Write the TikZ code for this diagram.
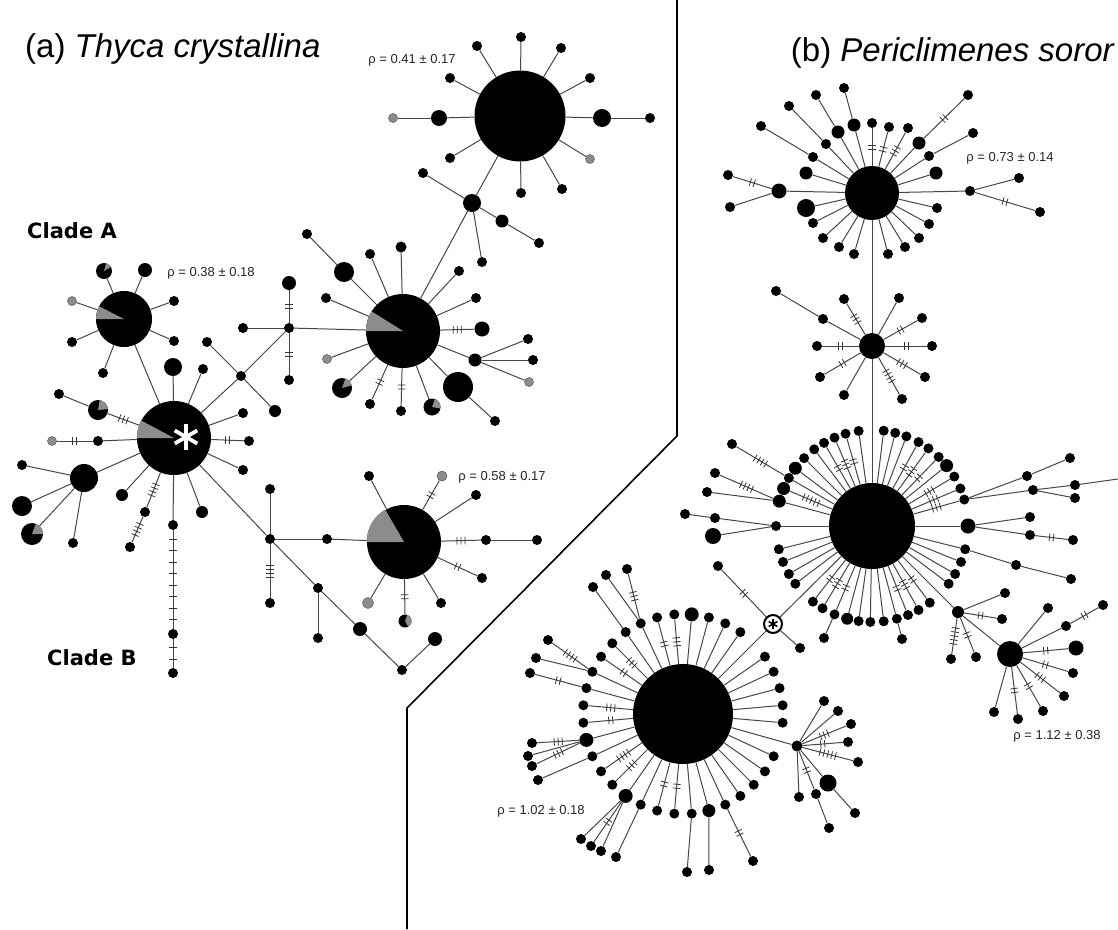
\documentclass[tikz,border=0pt]{standalone}
\usepackage{fontspec}
\setmainfont{Liberation Sans}
\newfontfamily\cladefont{DejaVu Sans}
\usetikzlibrary{calc,decorations.markings}
\tikzset{
 ed/.style={draw=black!72, line width=1pt},
 tkline/.style={draw=black!80, line width=0.8pt},
 tk/.style={postaction={decorate,decoration={markings,mark=at position 0.5 with {\ifnum#1>0\relax\foreach \k in {1,...,#1}{\draw[tkline] ({(\k-0.5-#1/2)*4},-3.8) -- ({(\k-0.5-#1/2)*4},3.8);}\fi}}}},
 tkw/.style={postaction={decorate,decoration={markings,mark=at position 0.5 with {\foreach \k in {1,...,#1}{\draw[tkline] ({(\k-0.5-#1/2)*11.5},-3.8) -- ({(\k-0.5-#1/2)*11.5},3.8);}}}}},
 d/.style={circle, fill=black, inner sep=0pt, minimum size=10pt},
 g/.style={circle, fill=black!45, draw=black!65, line width=0.5pt, inner sep=0pt, minimum size=9pt},
 hub/.style={circle, fill=black, inner sep=0pt, minimum size=#1},
 starnode/.style={circle, fill=white, draw=black, line width=2pt, inner sep=0pt, minimum size=18pt},
 lab/.style={font=\fontsize{13}{15}\selectfont, text=black!85, inner sep=0pt},
 title/.style={font=\fontsize{33}{38}\selectfont, inner sep=0pt},
 clade/.style={font=\cladefont\bfseries\fontsize{21}{24}\selectfont, inner sep=0pt},
 divider/.style={draw=black, line width=1.6pt},
}
\newcommand\lf[5]{\node[#4] (#2) at (#3) {};\draw[ed,#5] (#1) -- (#2);}
\newcommand\pw[4]{\begin{scope}[shift={(#1.center)}]\fill[black!45] (0,0) -- plot[domain=#3:#4,samples=20] ({#2*cos(\x)},{#2*sin(\x)}) -- cycle;\end{scope}}
\begin{document}
\begin{tikzpicture}[x=1pt,y=-1pt]
\fill[white] (0,0) rectangle (1118,929);
\useasboundingbox (0,0) rectangle (1118,929);
% divider
\draw[divider] (677,0) -- (677,436) -- (407,708) -- (407,929);
% titles
\node[title, anchor=base west] (ta) at (25,57) {(a) \textit{Thyca crystallina}};
\node[title, anchor=base east] (tb) at (1115,61) {(b) \textit{Periclimenes soror}};
\node[clade, anchor=base west] (cA) at (27,238) {Clade A};
\node[clade, anchor=base west] (cB) at (47,665) {Clade B};
\node[lab] (r1) at (412,60) {ρ = 0.41 ± 0.17};
\node[lab] (r2) at (211,273) {ρ = 0.38 ± 0.18};
\node[lab] (r3) at (502,477) {ρ = 0.58 ± 0.17};
\node[lab] (r4) at (1010,158) {ρ = 0.73 ± 0.14};
\node[lab] (r5) at (1057,736) {ρ = 1.12 ± 0.38};
\node[lab] (r6) at (541,811) {ρ = 1.02 ± 0.18};

%%%%% panel (a)
\node[hub=91pt] (H1) at (520,116) {};
\lf{H1}{a1}{521,37}{d}{}
\lf{H1}{a2}{477,46}{d}{}
\lf{H1}{a3}{561,48}{d}{}
\lf{H1}{a4}{450,78}{d}{}
\lf{H1}{a5}{590,78}{d}{}
\lf{H1}{a6}{439,118}{d,minimum size=16pt}{}
\lf{a6}{a7}{393,118}{g}{}
\lf{H1}{a8}{602,118}{d,minimum size=18pt}{}
\lf{a8}{a9}{650,118}{d}{}
\lf{H1}{a10}{450,158}{d}{}
\lf{H1}{a11}{590,159}{g}{}
\lf{H1}{a12}{521,193}{d}{}
\lf{H1}{a13}{562,189}{d}{}
\lf{H1}{N1}{472,203}{d,minimum size=18pt}{}
\lf{N1}{a14}{423,173}{d}{}
\lf{N1}{a15}{502,221}{d,minimum size=13pt}{}
\lf{a15}{a16}{539,243}{d}{}
\lf{N1}{a17}{482,262}{d}{}
\node[hub=74pt] (H2) at (403,331) {};
\draw[ed] (N1) -- (H2);
\lf{H2}{b1}{344,272}{d,minimum size=20pt}{}
\lf{b1}{b2}{307,234}{d}{}
\lf{H2}{b3}{370,254}{d}{}
\lf{H2}{b4}{401,247}{d,minimum size=11pt}{}
\lf{H2}{b5}{459,271}{d}{}
\lf{H2}{b6}{476,298}{d}{}
\lf{H2}{b7}{482,329}{d,minimum size=15pt}{tk=3}
\lf{H2}{N2}{475,360}{d,minimum size=13pt}{}
\lf{N2}{b8}{528,339}{d}{}
\lf{N2}{b9}{533,360}{d}{}
\lf{N2}{b10}{529,382}{g}{}
\lf{H2}{b11}{458,387}{d,minimum size=30pt}{}
\lf{b11}{b12}{495,421}{d}{}
\lf{H2}{b13}{432,407}{d,minimum size=17pt}{}
\lf{H2}{b14}{401,411}{d}{tk=2}
\lf{H2}{b15}{370,404}{d}{tk=2}
\lf{H2}{b16}{342,388}{d,minimum size=20pt}{}
\lf{H2}{b17}{327,359}{g}{}
\lf{H2}{b18}{326,298}{d}{}
\lf{H2}{J1}{289,328}{d,minimum size=10pt}{}
\lf{J1}{b19}{243,328}{d}{}
\lf{J1}{b20}{289,283}{d,minimum size=14pt}{tk=2}
\lf{J1}{b21}{289,380}{d}{tk=2}
\lf{J1}{J2}{241,376}{d,minimum size=10pt}{}
\lf{J2}{b22}{207,342}{d}{}
\lf{J2}{b23}{275,411}{d,minimum size=12pt}{}
\node[hub=74pt] (H3) at (174,438) {};
\draw[ed] (J2) -- (H3);
\lf{H3}{c1}{173,367}{d,minimum size=18pt}{}
\lf{H3}{c2}{203,369}{d}{}
\lf{H3}{c3}{243,413}{d}{}
\lf{H3}{c4}{249,441}{d}{tk=2}
\lf{H3}{c5}{243,470}{d}{}
\lf{H3}{c6}{202,512}{d,minimum size=12pt}{}
\lf{H3}{c7}{173,525}{d}{}
\lf{c7}{c8}{173,634}{d}{tkw=8}
\lf{c8}{c9}{173,673}{d}{tkw=2}
\lf{H3}{c10}{145,512}{d}{tk=4}
\lf{c10}{c11}{130,547}{d}{tk=4}
\lf{H3}{c12}{122,495}{d,minimum size=12pt}{}
\lf{H3}{H5}{84,478}{d,minimum size=28pt}{}
\lf{H5}{c13}{22,465}{d}{}
\lf{H5}{c14}{22,506}{d,minimum size=20pt}{}
\lf{H5}{c15}{32,534}{d,minimum size=22pt}{}
\lf{H5}{c16}{73,543}{d}{}
\lf{H3}{c17}{98,441}{d}{}
\lf{c17}{c18}{52,441}{g}{tk=2}
\lf{H3}{c19}{98,410}{d,minimum size=20pt}{tk=3}
\lf{c19}{c20}{59,394}{d}{}
\lf{H3}{J3}{270,539}{d,minimum size=10pt}{}
\node[hub=56pt] (H4) at (124,319) {};
\draw[ed] (H4) -- (H3);
\lf{H4}{d1}{104,271}{d,minimum size=16pt}{}
\lf{H4}{d2}{145,270}{d,minimum size=14pt}{}
\lf{H4}{d3}{72,301}{g}{}
\lf{H4}{d4}{174,301}{d}{}
\lf{H4}{d5}{72,342}{d}{}
\lf{H4}{d6}{174,341}{d}{}
\lf{H4}{d7}{103,373}{d}{}
\lf{J3}{e1}{270,489}{d}{}
\lf{J3}{e2}{270,603}{d}{tk=4}
\lf{J3}{e3}{327,539}{d}{}
\lf{J3}{J4}{318,588}{d,minimum size=10pt}{}
\lf{J4}{e4}{318,638}{d}{}
\lf{J4}{e5}{360,629}{d,minimum size=14pt}{}
\lf{e5}{e6}{402,670}{d}{}
\lf{e6}{e7}{435,639}{d,minimum size=14pt}{}
\node[hub=74pt] (H6) at (404,542) {};
\draw[ed] (e3) -- (H6);
\lf{H6}{f1}{369,476}{d}{}
\lf{H6}{f2}{442,476}{g,minimum size=10pt}{tk=2}
\lf{H6}{f3}{476,495}{d}{}
\lf{H6}{f4}{486,540}{d}{tk=3}
\lf{f4}{f5}{537,540}{d}{}
\lf{H6}{f6}{482,578}{d}{tk=2}
\lf{H6}{f7}{441,603}{d}{}
\lf{H6}{f8}{405,621}{d,minimum size=13pt}{tk=2}
\lf{H6}{f9}{368,603}{g,minimum size=11pt}{}
% pie wedges
\pw{H2}{37}{180}{212}
\pw{H3}{37}{180}{208}
\pw{H4}{28}{180}{207}
\pw{H6}{37.5}{180}{240}
\pw{d1}{8}{285}{330}
\pw{b13}{8.5}{290}{370}
\pw{b16}{10}{290}{345}
\pw{c19}{10}{280}{355}
\pw{c15}{11}{290}{360}
\pw{f8}{6.5}{290}{420}
% white asterisk
\foreach \ang in {90,30,150}
  \draw[white, line width=3.8pt] ($(H3)+(12,-1)+(\ang:13)$) -- ($(H3)+(12,-1)+(\ang+180:13)$);

%%%%% panel (b)
\node[hub=54pt] (B1) at (872,193) {};
\lf{B1}{g1}{813,157}{d}{} \lf{g1}{g2}{761,126}{d}{}
\lf{B1}{g3}{826,144}{d}{} \lf{g3}{g4}{789,106}{d}{}
\lf{B1}{g5}{838,132}{d,minimum size=13pt}{} \lf{g5}{g6}{816,95}{d}{}
\lf{B1}{g7}{854,125}{d,minimum size=13pt}{} \lf{g7}{g8}{844,88}{d}{}
\lf{B1}{g9}{872,123}{d}{tk=2}
\lf{B1}{g10}{889,127}{d}{tk=2}
\lf{B1}{g11}{908,128}{d}{tk=3}
\lf{B1}{g12}{919,143}{d,minimum size=13pt}{} \lf{g12}{g13}{968,95}{d}{tk=2}
\lf{B1}{g14}{929,156}{d}{} \lf{g14}{g15}{973,133}{d}{}
\lf{B1}{g16}{936,173}{d,minimum size=13pt}{}
\lf{B1}{g17}{806,173}{d,minimum size=13pt}{}
\lf{B1}{g18}{779,191}{d,minimum size=15pt}{} \lf{g18}{g19}{728,175}{d}{tk=2} \lf{g18}{g20}{730,207}{d}{}
\lf{B1}{g21}{970,191}{d}{} \lf{g21}{g22}{1019,178}{d}{} \lf{g21}{g23}{1040,212}{d}{tk=2}
\lf{B1}{g24}{806,208}{d,minimum size=18pt}{}
\lf{B1}{g25}{813,223}{d}{}
\lf{B1}{g26}{823,238}{d}{}
\lf{B1}{g27}{839,247}{d}{}
\lf{B1}{g28}{854,254}{d}{}
\lf{B1}{g29}{888,254}{d}{}
\lf{B1}{g30}{905,247}{d}{}
\lf{B1}{g31}{919,238}{d}{}
\lf{B1}{g32}{929,224}{d}{}
\lf{B1}{g33}{937,208}{d}{}
\node[hub=26pt] (B2) at (872,346) {};
\draw[ed] (B1) -- (B2);
\lf{B2}{h1}{823,319}{d}{} \lf{h1}{h2}{776,291}{d}{}
\lf{B2}{h3}{844,299}{d}{tk=3}
\lf{B2}{h4}{899,298}{d}{}
\lf{B2}{h5}{922,318}{d}{tk=2}
\lf{B2}{h6}{817,346}{d}{tk=2}
\lf{B2}{h7}{932,346}{d}{tk=2}
\lf{B2}{h8}{820,377}{d}{tk=2}
\lf{B2}{h9}{925,377}{d}{tk=3}
\lf{B2}{h10}{844,395}{d}{}
\lf{B2}{h11}{902,399}{d}{tk=4}
\node[hub=86pt] (B3) at (872,526) {};
\draw[ed] (B2) -- (B3);
\foreach \a/\s/\t in {0/15/0,14/10/0,22/10/0,30/10/0,37/10/0,53/10/2,61/10/3,68/10/2,75/10/0,83/10/0,91/10/0,98/10/0,105/12/0,113/10/2,121/10/3,128/10/2,143/10/0,150/10/0,158/10/0,166/10/0,180/10/0,195/13/0,203/13/5,210/10/0,217/13/0,225/10/0,233/10/0,240/10/2,247/10/3,254/10/2,262/10/0,277/10/0,284/10/0,291/10/0,299/10/2,306/10/3,314/10/2,321/13/0,329/10/3,337/10/3,344/10/3}
 {\node[d,minimum size={\s*1pt}] (q\a) at ($(B3)+(\a:96)$) {}; \draw[ed,tk=\t] (B3) -- (q\a);}
\lf{q210}{k1}{732,444}{d}{tk=4}
\lf{q195}{k2}{715,473}{d}{tk=4}
\lf{q195}{k3}{707,492}{d}{}
\lf{q180}{k4}{715,518}{d}{} \lf{k4}{k5}{685,514}{d}{}
\lf{q180}{k6}{713,536}{d,minimum size=16pt}{}
\lf{q344}{k7}{1027,476}{d}{} \lf{k7}{k8}{1070,458}{d}{}
\lf{q344}{k9}{1033,490}{d}{} \lf{k9}{k10}{1075,485}{d}{} \lf{k9}{k11}{1075,498}{d}{}
\coordinate (k12) at (1118,479); \draw[ed] (k10) -- (k12);
\lf{q0}{k13}{1030,517}{d}{} \lf{q0}{k14}{1030,535}{d}{} \lf{k14}{k15}{1073,540}{d}{tk=2}
\lf{q14}{k16}{1016,565}{d}{} \lf{k16}{k17}{1071,579}{d}{}
\lf{q75}{k18}{902,639}{d}{}
\lf{q113}{k19}{824,638}{d}{}
\lf{B3}{B4}{958,612}{d,minimum size=12pt}{}
\lf{B4}{l1}{1005,593}{d}{}
\lf{B4}{l2}{1002,619}{d}{tk=2}
\lf{B4}{l3}{951,659}{d}{tk=5}
\lf{B4}{l4}{976,657}{d}{tk=2}
\lf{B4}{B5}{1010,654}{d,minimum size=26pt}{}
\lf{B5}{m1}{1048,608}{d}{}
\lf{B5}{m2}{1066,626}{d}{} \lf{m2}{m3}{1103,605}{d}{tk=2}
\lf{B5}{m4}{1076,648}{d,minimum size=15pt}{tk=2}
\lf{B5}{m5}{1073,673}{d}{tk=2}
\lf{B5}{m6}{1064,696}{d}{tk=3}
\lf{B5}{m7}{1043,711}{d}{tk=2}
\lf{B5}{m8}{1018,719}{d}{tk=2}
\lf{B5}{m9}{994,712}{d}{}
% star node
\node[starnode] (S) at (773,624) {};
\foreach \ang in {90,30,150}
  \draw[black, line width=1.6pt] ($(S)+(\ang:5)$) -- ($(S)+(\ang+180:5)$);
\draw[ed] (B3) -- (S);
\lf{S}{s1}{718,566}{d}{tk=2}
\lf{S}{s2}{800,648}{d}{}
\node[hub=100pt] (B6) at (683,714) {};
\draw[ed] (S) -- (B6);
\foreach \a/\s/\t in {5/10/0,25/10/0,35/10/0,45/10/0,55/10/0,65/10/0,75/13/0,85/10/0,95/10/2,105/10/2,115/10/0,125/14/0,135/10/3,145/10/4,155/10/0,165/14/0,175/10/2,185/10/3,195/10/0,205/10/0,215/10/2,225/10/3,235/10/0,245/10/0,255/10/2,265/10/3,275/14/0,285/10/0,295/10/0,305/10/0,325/10/0,335/10/0,345/10/0,355/10/0}
 {\node[d,minimum size={\s*1pt}] (w\a) at ($(B6)+(\a:100)$) {}; \draw[ed,tk=\t] (B6) -- (w\a);}
\lf{w235}{n1}{593,587}{d}{}
\lf{w245}{n2}{606,575}{d}{} \lf{w245}{n3}{627,569}{d}{tk=3}
\lf{w205}{n4}{548,640}{d}{tk=4} \lf{w205}{n5}{536,658}{d}{}
\lf{w195}{n6}{530,673}{d}{tk=2}
\lf{w165}{n7}{532,743}{d}{tk=3} \lf{w165}{n8}{528,756}{d}{} \lf{w165}{n9}{532,766}{d}{tk=3}
\lf{w155}{n10}{538,780}{d}{}
\lf{w125}{n11}{581,839}{d}{} \lf{w125}{n12}{591,846}{d}{tk=2} \lf{w125}{n13}{601,851}{d}{}
\lf{w115}{n14}{616,857}{d}{}
\lf{w85}{n15}{687,872}{d}{}
\lf{w75}{n16}{709,870}{d}{}
\lf{w65}{n17}{753,861}{d}{tk=2}
\lf{B6}{B7}{797,746}{d,minimum size=11pt}{}
\lf{B7}{o1}{824,701}{d}{}
\lf{B7}{o2}{838,711}{d}{}
\lf{B7}{o3}{851,724}{d}{tk=3}
\lf{B7}{o4}{848,742}{d}{tk=2}
\lf{B7}{o5}{858,762}{d}{tk=5}
\lf{B7}{o6}{828,783}{d,minimum size=17pt}{} \lf{o6}{o7}{855,813}{d}{}
\lf{B7}{o8}{816,794}{d}{tk=2} \lf{o8}{o9}{829,828}{d}{}
\lf{B7}{o10}{799,797}{d}{}
\end{tikzpicture}
\end{document}
